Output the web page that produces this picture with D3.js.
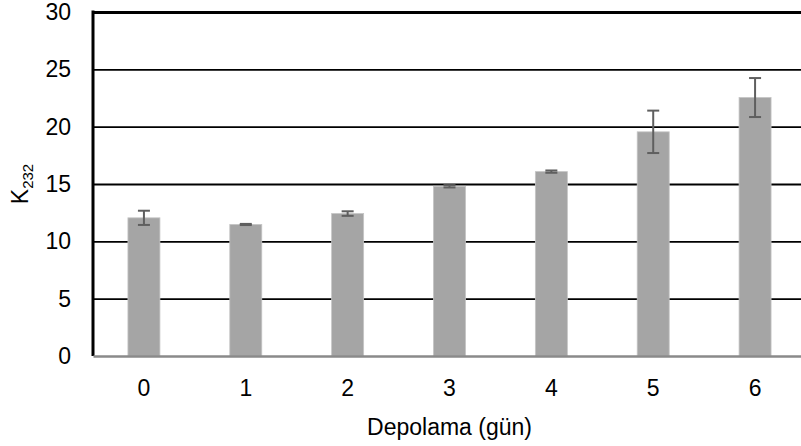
<!DOCTYPE html>
<html lang="en">
<head>
<meta charset="UTF-8">
<title>K232</title>
<script src="https://cdn.jsdelivr.net/npm/d3@7"></script>
<style>
  body { margin: 0; background: #fff; }
  text { font-family: "Liberation Sans", Arial, sans-serif; fill: #000; }
</style>
</head>
<body>
<div id="chart"></div>
<script>
// data
var days = ["0", "1", "2", "3", "4", "5", "6"];
var k232 = [12.05, 11.47, 12.42, 14.8, 16.08, 19.55, 22.54];
var k232Err = [0.62, 0.05, 0.2, 0.1, 0.1, 1.85, 1.7];
var yTicks = [0, 5, 10, 15, 20, 25, 30];

var width = 801, height = 446;
var plotLeft = 93, plotRight = 806, plotTop = 12, plotBottom = 356;
var fontSize = "23px";

var svg = d3.select("#chart").append("svg")
    .attr("width", width)
    .attr("height", height);

var x = d3.scaleBand()
    .domain(days)
    .range([plotLeft, plotRight])
    .paddingInner(0.686)
    .paddingOuter(0.343);

var y = d3.scaleLinear()
    .domain([0, 30])
    .range([plotBottom, plotTop]);

// gridlines + y labels
var yAxis = svg.append("g")
    .attr("transform", "translate(" + plotLeft + ",0)")
    .call(d3.axisLeft(y).tickValues(yTicks).tickSize(-(plotRight - plotLeft)).tickPadding(22));
yAxis.select(".domain").remove();
yAxis.selectAll(".tick line")
    .attr("stroke", "#000")
    .attr("stroke-width", function(d){ return d == 30 ? 3 : 1.8; })
    .attr("display", function(d){ return d == 0 ? "none" : null; });
yAxis.selectAll(".tick text").style("font-size", fontSize);

// bars
svg.append("g").selectAll("rect")
    .data(k232)
    .enter()
    .append("rect")
    .attr("x", function(d, i){ return x(days[i]); })
    .attr("y", function(d){ return y(d); })
    .attr("width", x.bandwidth())
    .attr("height", function(d){ return y(0) - y(d); })
    .attr("fill", "#a5a5a5")
    .attr("stroke", "#c4c4c4")
    .attr("stroke-width", 0.8);

// error bars
var err = svg.append("g").selectAll("g")
    .data(k232)
    .enter()
    .append("g")
    .attr("stroke", "#5f5f5f")
    .attr("stroke-width", 2);
err.append("line")
    .attr("x1", function(d, i){ return x(days[i]) + x.bandwidth() / 2; })
    .attr("x2", function(d, i){ return x(days[i]) + x.bandwidth() / 2; })
    .attr("y1", function(d, i){ return y(d + k232Err[i]); })
    .attr("y2", function(d, i){ return y(d - k232Err[i]); });
[1, -1].forEach(function(s) {
    err.append("line")
        .attr("x1", function(d, i){ return x(days[i]) + x.bandwidth() / 2 - 6; })
        .attr("x2", function(d, i){ return x(days[i]) + x.bandwidth() / 2 + 6; })
        .attr("y1", function(d, i){ return y(d + s * k232Err[i]); })
        .attr("y2", function(d, i){ return y(d + s * k232Err[i]); });
});

// left axis line
svg.append("line")
    .attr("x1", plotLeft).attr("x2", plotLeft)
    .attr("y1", y(30) - 1.5).attr("y2", y(0))
    .attr("stroke", "#000").attr("stroke-width", 3);

// bottom axis
var xAxis = svg.append("g")
    .attr("transform", "translate(0," + plotBottom + ")")
    .call(d3.axisBottom(x).tickSize(0).tickPadding(24));
xAxis.select(".domain")
    .attr("stroke", "#8a8a8a")
    .attr("stroke-width", 2.5);
xAxis.selectAll(".tick text").style("font-size", fontSize);

// axis titles
svg.append("text")
    .attr("x", (plotLeft + plotRight) / 2)
    .attr("y", 435)
    .attr("text-anchor", "middle")
    .style("font-size", fontSize)
    .text("Depolama (gün)");

var yt = svg.append("text")
    .attr("transform", "translate(28," + ((plotTop + plotBottom) / 2) + ") rotate(-90)")
    .attr("text-anchor", "middle")
    .style("font-size", fontSize);
yt.append("tspan").text("K");
yt.append("tspan").attr("dy", 5).style("font-size", "15px").text("232");
</script>
</body>
</html>
